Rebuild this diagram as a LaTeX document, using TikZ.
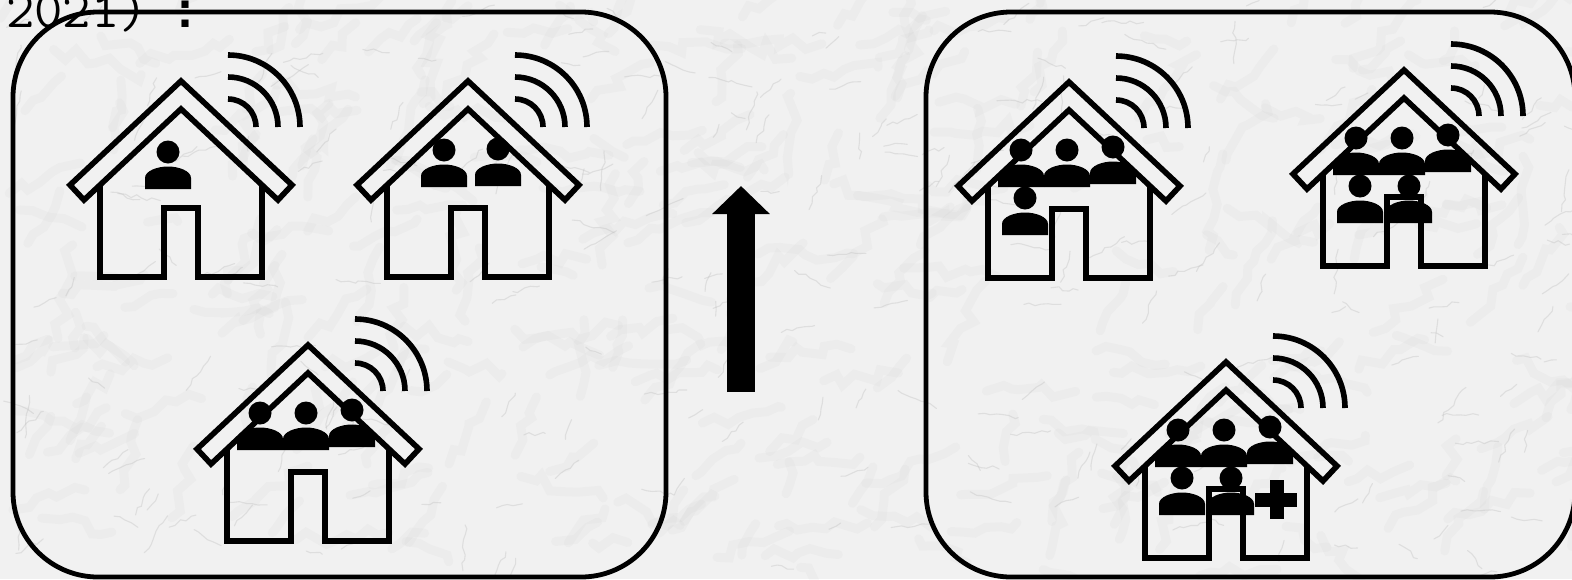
\documentclass[tikz,border=0pt]{standalone}
\usepackage{fontspec}
\newfontfamily\colonfont{Liberation Mono}
\usetikzlibrary{arrows.meta,decorations.pathmorphing}
\definecolor{mbBase}{HTML}{F1F1F1}
\definecolor{mbVein}{HTML}{C2C2C2}
\definecolor{mbCloud}{HTML}{A8A8A8}
\tikzset{
  house/.pic={
    % roof band
    \draw[hline] (0,0) -- (111,104) -- (97,119) -- (0,28) -- (-97,119) -- (-111,104) -- cycle;
    % walls and door
    \draw[hline] (-81,103) -- (-81,196) -- (-17,196) -- (-17,127) -- (17,127)
      -- (17,196) -- (81,196) -- (81,103);
    % signal
    \foreach \rr in {28,50,72} {
      \draw[wline] (47,46-\rr) arc[start angle=90, end angle=0, radius=\rr pt];
    }
  },
  person/.pic={
    \fill (0,0) circle[radius=11.5pt];
    \fill (-23,37) -- (-23,26) .. controls (-23,19) and (-11,14.5) .. (0,14.5)
      .. controls (11,14.5) and (23,19) .. (23,26) -- (23,37) -- cycle;
  },
}
\begin{document}
\begin{tikzpicture}[x=1pt, y=-1pt,
  hline/.style={draw=black, line width=5.6pt, miter limit=10},
  wline/.style={draw=black, line width=5.6pt},
  frame/.style={draw=black, line width=4.8pt, rounded corners=85pt},
  vein/.style={draw=mbVein, line width=1.1pt, opacity=0.4, line cap=round,
    decorate, decoration={random steps, segment length=6pt, amplitude=2pt}},
  cloud/.style={draw=mbCloud, line width=9pt, opacity=0.06, line cap=round,
    decorate, decoration={random steps, segment length=12pt, amplitude=7pt}},
  yearlab/.style={anchor=base west, inner sep=0pt, text=black},
]

\path[use as bounding box] (0,0) rectangle (1572,579);
\clip (0,0) rectangle (1572,579);

% marble ground
\fill[mbBase] (0,0) rectangle (1572,579);
\pgfmathsetseed{4217}
\foreach \vv in {1,...,300} {
  \pgfmathsetmacro\vx{rnd*1572}
  \pgfmathsetmacro\vy{rnd*579}
  \pgfmathsetmacro\va{rnd*120-90}
  \draw[cloud] (\vx,\vy) -- ++(\va:30+rnd*70);
}
\foreach \vv in {1,...,240} {
  \pgfmathsetmacro\vx{rnd*1572}
  \pgfmathsetmacro\vy{rnd*579}
  \pgfmathsetmacro\va{rnd*120-90}
  \draw[vein] (\vx,\vy) -- ++(\va:12+rnd*34);
}

\node[yearlab, font=\ttfamily\fontsize{55}{60}\selectfont] (yeartext) at (6,27) {2021)};
\node[yearlab, font=\colonfont\bfseries\fontsize{50}{60}\selectfont] (colonmark) at (170,27) {:};

% the two groups
\draw[frame] (13,12) rectangle (666,577);
\draw[frame] (926,12) rectangle (1575,577);

% apex x / apex y / heads relative to apex
\foreach \hx/\hy/\crew in {
  181/81/{-13/71},
  468/81/{-24/69, 30/68},
  308/345/{-48/68, -2/68, 44/65},
  1069/82/{-48/68, -2/68, 44/65, -44/116},
  1404/70/{-48/68, -2/68, 44/65, -44/116, 5/116},
  1226/362/{-48/68, -2/68, 44/65, -44/116, 5/116}} {
  \pic at (\hx,\hy) {house};
  \foreach \px/\py in \crew {
    \pic at (\hx+\px,\hy+\py) {person};
  }
}

% cross
\fill (1255,492.5) rectangle (1297,506.5);
\fill (1269.5,480) rectangle (1283.5,519);

\coordinate (arrowfoot) at (741,392);
\coordinate (arrowtip) at (741,186);
\draw[line width=28pt, -{Triangle[length=28pt, width=56pt]}] (arrowfoot) -- (arrowtip);

\end{tikzpicture}
\end{document}
